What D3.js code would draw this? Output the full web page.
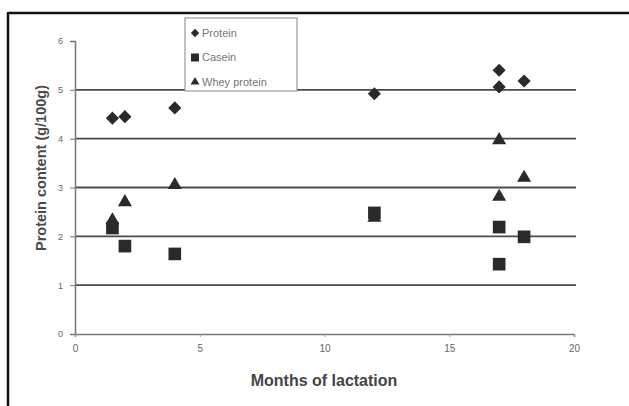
<!DOCTYPE html>
<html>
<head>
<meta charset="utf-8">
<script src="https://cdn.jsdelivr.net/npm/d3@7"></script>
<style>
  body { margin: 0; background: #fff; }
  svg { display: block; font-family: "Liberation Sans", Arial, sans-serif; }
</style>
</head>
<body>
<div id="chart"><svg></svg></div>
<script>
// months of lactation, one per sample
var months = [1.5, 2, 4, 12, 17, 17, 18];
var protein = [4.42, 4.45, 4.63, 4.92, 5.40, 5.06, 5.18];
var casein = [2.17, 1.80, 1.64, 2.48, 2.19, 1.43, 1.99];
var whey = [2.33, 2.70, 3.05, 2.38, 3.97, 2.81, 3.20];
var xTicks = [0, 5, 10, 15, 20];
var yTicks = [0, 1, 2, 3, 4, 5, 6];
var gridValues = [1, 2, 3, 4, 5];
var seriesNames = ["Protein", "Casein", "Whey protein"];

var width = 629, height = 406;

var svg = d3.select("#chart").select("svg")
    .attr("width", width)
    .attr("height", height);

// frame lines of the scanned figure
svg.append("line")
    .attr("x1", 8).attr("x2", width)
    .attr("y1", 13).attr("y2", 13)
    .attr("stroke", "#111").attr("stroke-width", 2.5);
svg.append("line")
    .attr("x1", 8).attr("x2", 8)
    .attr("y1", 12).attr("y2", height)
    .attr("stroke", "#111").attr("stroke-width", 2.5);

// set the ranges
var x = d3.scaleLinear().domain([0, 20]).range([75, 574]);
var y = d3.scaleLinear().domain([0, 6]).range([334, 41]);

// horizontal grid lines
svg.append("g")
    .selectAll("line")
    .data(gridValues)
    .enter().append("line")
    .attr("x1", x(0)).attr("x2", x(20) + 2)
    .attr("y1", function (d) { return y(d); })
    .attr("y2", function (d) { return y(d); })
    .attr("stroke", "#4a4a4a")
    .attr("stroke-width", 1.8);

// Y axis
var yAxis = svg.append("g")
    .attr("transform", "translate(" + x(0) + ",0)")
    .call(d3.axisLeft(y).tickValues(yTicks).tickFormat(d3.format("d")).tickSize(5).tickPadding(7));
yAxis.select(".domain").attr("stroke", "#777").attr("stroke-width", 1.5);
yAxis.selectAll(".tick line").attr("stroke", "#777");
yAxis.selectAll("text").attr("fill", "#666").attr("font-size", 9);

// X axis
var xAxis = svg.append("g")
    .attr("transform", "translate(0," + y(0) + ")")
    .call(d3.axisBottom(x).tickValues(xTicks).tickFormat(d3.format("d")).tickSize(3).tickPadding(8));
xAxis.select(".domain").attr("stroke", "#777").attr("stroke-width", 1.5);
xAxis.selectAll(".tick line").attr("stroke", "#999");
xAxis.selectAll("text").attr("fill", "#666").attr("font-size", 10);

// points
var markFill = "#2a2a2a";
function rows(values) {
    return months.map(function (m, i) { return {m: m, v: values[i]}; });
}
var series = [
    {name: seriesNames[0], values: protein, symbol: d3.symbolDiamond2, size: 110},
    {name: seriesNames[1], values: casein, symbol: d3.symbolSquare, size: 160},
    {name: seriesNames[2], values: whey, symbol: d3.symbolTriangle, size: 85}
];
// draw whey first so casein squares sit over it, as in the original
[series[2], series[1], series[0]].forEach(function (s) {
    svg.append("g")
        .selectAll("path")
        .data(rows(s.values))
        .enter().append("path")
        .attr("transform", function (d) {
            return "translate(" + x(d.m) + "," + y(d.v) + ")";
        })
        .attr("d", d3.symbol().type(s.symbol).size(s.size))
        .attr("fill", markFill);
});

// legend
var legend = svg.append("g").attr("transform", "translate(185,18)");
legend.append("rect")
    .attr("width", 112).attr("height", 73)
    .attr("fill", "#fff")
    .attr("stroke", "#999").attr("stroke-width", 1.2);
var items = legend.selectAll("g.item")
    .data(series)
    .enter().append("g")
    .attr("class", "item")
    .attr("transform", function (d, i) { return "translate(10," + (15 + i * 24.5) + ")"; });
items.append("path")
    .attr("d", function (d) { return d3.symbol().type(d.symbol).size(d.size * 0.4)(); })
    .attr("fill", markFill);
items.append("text")
    .attr("x", 7)
    .attr("dy", "0.35em")
    .attr("font-size", 11)
    .attr("fill", "#777")
    .text(function (d) { return d.name; });

// axis titles
svg.append("text")
    .attr("transform", "translate(46," + 168 + ") rotate(-90)")
    .attr("text-anchor", "middle")
    .attr("font-size", 14.5)
    .attr("font-weight", "bold")
    .attr("fill", "#4a4a4a")
    .text("Protein content (g/100g)");

svg.append("text")
    .attr("x", 324)
    .attr("y", 386)
    .attr("text-anchor", "middle")
    .attr("font-size", 16)
    .attr("font-weight", "bold")
    .attr("fill", "#444")
    .text("Months of lactation");
</script>
</body>
</html>
